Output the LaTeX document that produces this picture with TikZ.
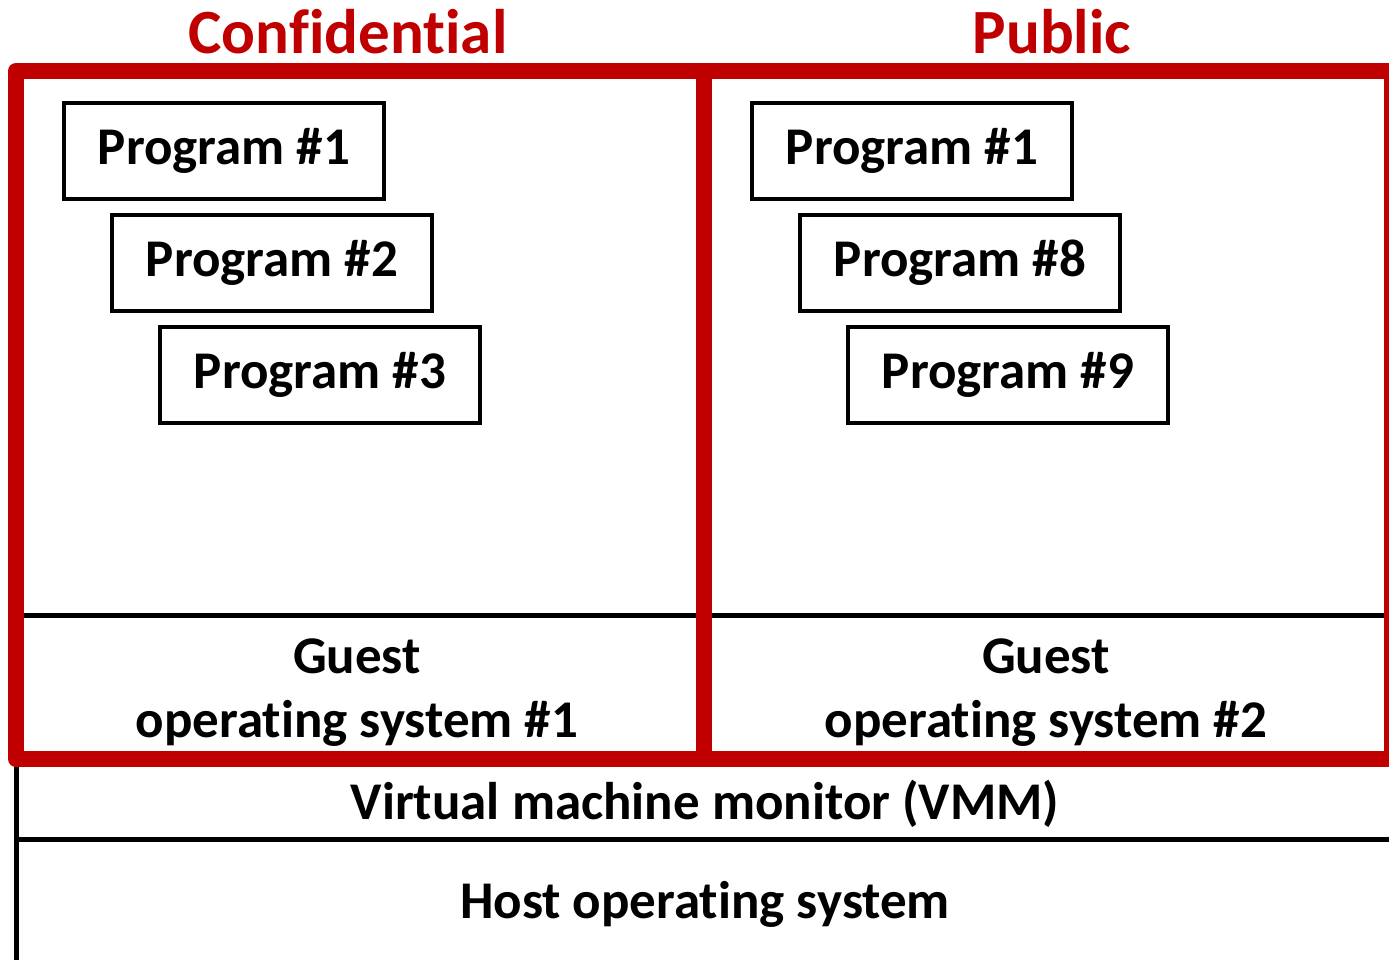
\documentclass[tikz,border=0pt]{standalone}
\usepackage{fontspec}
\setmainfont{Carlito}[Ligatures={NoCommon}, RawFeature={-liga;-dlig}]
\definecolor{frame}{HTML}{C00000}
\begin{document}
\begin{tikzpicture}[x=1pt,y=-1pt,
  prog/.style={draw, line width=4pt, minimum width=320pt, minimum height=96pt,
    inner sep=0pt, font=\fontsize{53}{60}\selectfont\bfseries},
  zone/.style={text=frame, anchor=base, inner sep=0pt,
    font=\fontsize{63}{70}\selectfont\bfseries},
  layer/.style={align=center, inner sep=0pt,
    font=\fontsize{53}{64}\selectfont\bfseries},
  redframe/.style={draw=frame, line width=16pt, line join=round},
  rule/.style={line width=5pt}]
\useasboundingbox (0,0) rectangle (1389,959);
\begin{scope}
\clip (0,0) rectangle (1389,959);
% layer boundaries of the host stack
\coordinate (hl) at (16,759);
\coordinate (hb) at (16,970);
\coordinate (vl) at (16,839);
\coordinate (vr) at (1400,839);
\coordinate (gl) at (16,615);
\coordinate (gr) at (1392,615);
\draw[rule] (hl) -- (hb);
\draw[rule] (vl) -- (vr);
\draw[rule] (gl) -- (gr);
% the two guest domains
\draw[redframe] (16,71) rectangle (704,759);
\draw[redframe] (704,71) rectangle (1392,759);
\end{scope}
% domain labels
\node[zone] (conf) at (348,53) {Confidential};
\node[zone] (pub) at (1052,53) {Public};
% programs in each guest
\node[prog] (c1) at (224,151) {Program \#1};
\node[prog] (c2) at (272,263) {Program \#2};
\node[prog] (c3) at (320,375) {Program \#3};
\node[prog] (p1) at (912,151) {Program \#1};
\node[prog] (p8) at (960,263) {Program \#8};
\node[prog] (p9) at (1008,375) {Program \#9};
% guest kernels
\node[layer] (g1) at (357,693) {Guest\\operating system \#1};
\node[layer] (g2) at (1046,693) {Guest\\operating system \#2};
% host layers
\node[layer] (vmm) at (705,804) {Virtual machine monitor (VMM)};
\node[layer] (host) at (705,904) {Host operating system};
\end{tikzpicture}
\end{document}
